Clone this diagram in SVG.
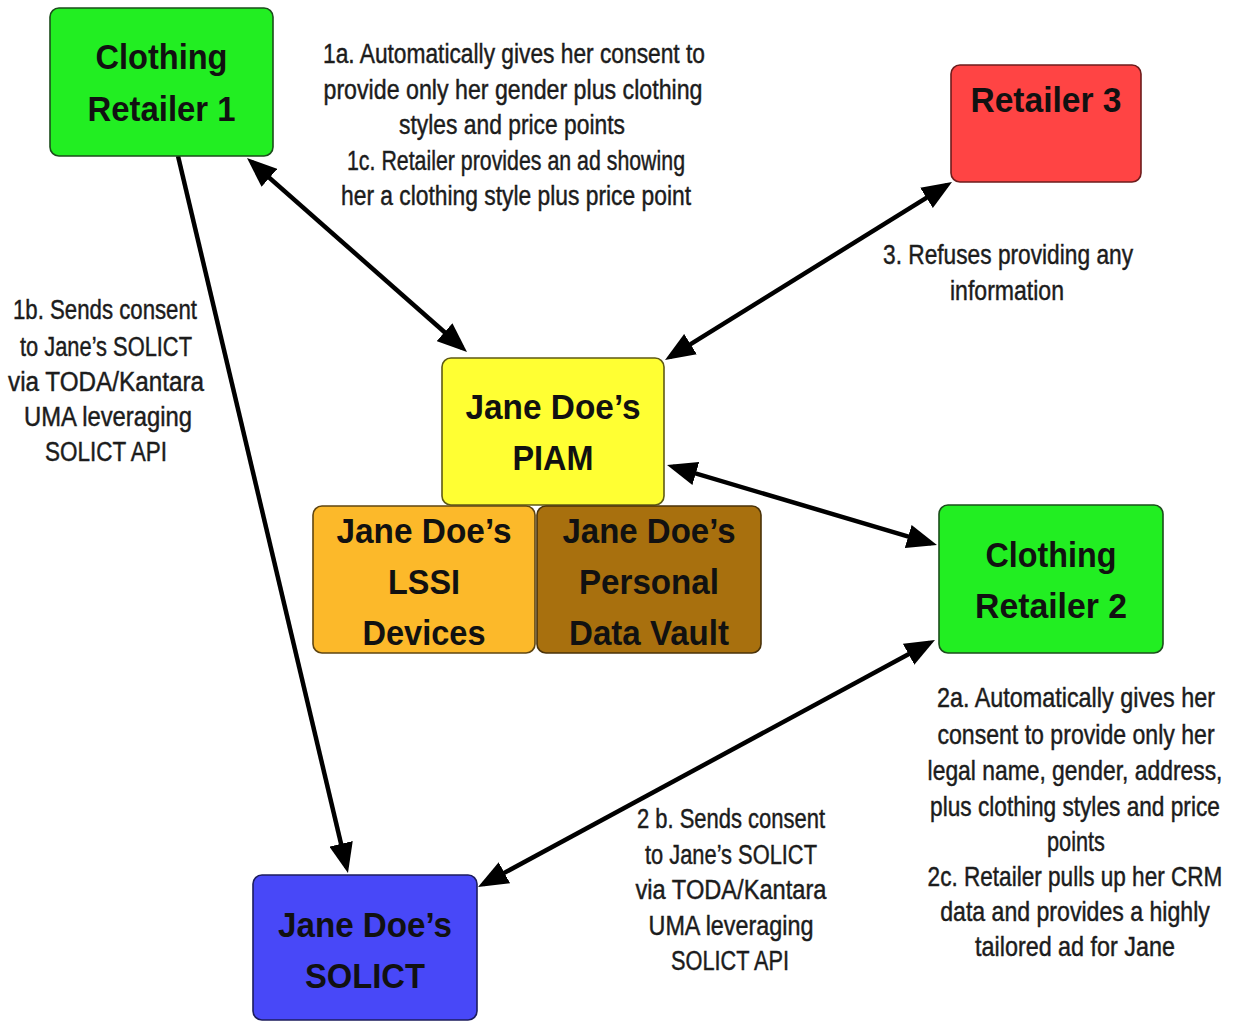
<svg xmlns="http://www.w3.org/2000/svg" width="1233" height="1023" viewBox="0 0 1233 1023">
  <style>
    .box { stroke-width: 1.6; }
    .nt { font-family: "Liberation Sans", Arial, sans-serif; font-weight: bold; font-size: 35px; fill: #111; text-anchor: middle; }
    .lb { font-family: "Liberation Sans", Arial, sans-serif; font-size: 27px; fill: #1c1c1c; stroke: #1c1c1c; stroke-width: 0.45; text-anchor: middle; }
    .conn { stroke: #000; stroke-width: 4.5; fill: none; }
  </style>
  <defs>
    <marker id="head" markerUnits="userSpaceOnUse" viewBox="0 0 30 24" markerWidth="30" markerHeight="24" refX="24" refY="12" orient="auto-start-reverse">
      <path d="M0,0 L30,12 L0,24 Z" fill="#000"/>
    </marker>
  </defs>

  <rect width="1233" height="1023" fill="#fff"/>

  <!-- connectors -->
  <g id="connectors">
    <line class="conn" x1="251.5" y1="162" x2="462.5" y2="348" marker-start="url(#head)" marker-end="url(#head)"/>
    <line class="conn" x1="178" y1="156" x2="346.6" y2="867.2" marker-end="url(#head)"/>
    <line class="conn" x1="670.1" y1="356.8" x2="946.9" y2="185.2" marker-start="url(#head)" marker-end="url(#head)"/>
    <line class="conn" x1="672.8" y1="466.7" x2="931.2" y2="543.3" marker-start="url(#head)" marker-end="url(#head)"/>
    <line class="conn" x1="483.3" y1="884.2" x2="929.7" y2="642.8" marker-start="url(#head)" marker-end="url(#head)"/>
  </g>

  <!-- nodes -->
  <g id="retailer1">
    <rect class="box" x="50" y="8" width="223" height="148" rx="9" fill="#22ee22" stroke="#1b4d1b"/>
    <text class="nt" x="161.5" y="69" textLength="132" lengthAdjust="spacingAndGlyphs">Clothing</text>
    <text class="nt" x="161.5" y="121" textLength="148" lengthAdjust="spacingAndGlyphs">Retailer 1</text>
  </g>

  <g id="retailer3">
    <rect class="box" x="951" y="65" width="190" height="117" rx="9" fill="#ff4444" stroke="#6e1c1c"/>
    <text class="nt" x="1046" y="112" textLength="151" lengthAdjust="spacingAndGlyphs">Retailer 3</text>
  </g>

  <g id="piam">
    <rect class="box" x="442" y="358" width="222" height="147" rx="9" fill="#ffff33" stroke="#5f5a14"/>
    <text class="nt" x="553" y="419" textLength="175" lengthAdjust="spacingAndGlyphs">Jane Doe’s</text>
    <text class="nt" x="553" y="470" textLength="81" lengthAdjust="spacingAndGlyphs">PIAM</text>
  </g>

  <g id="lssi">
    <rect class="box" x="313" y="506" width="222" height="147" rx="9" fill="#fcb92a" stroke="#5f4510"/>
    <text class="nt" x="424" y="543" textLength="175" lengthAdjust="spacingAndGlyphs">Jane Doe’s</text>
    <text class="nt" x="424" y="594" textLength="72" lengthAdjust="spacingAndGlyphs">LSSI</text>
    <text class="nt" x="424" y="645" textLength="123" lengthAdjust="spacingAndGlyphs">Devices</text>
  </g>

  <g id="vault">
    <rect class="box" x="537" y="506" width="224" height="147" rx="9" fill="#a8700e" stroke="#4a3208"/>
    <text class="nt" x="649" y="543" textLength="173" lengthAdjust="spacingAndGlyphs">Jane Doe’s</text>
    <text class="nt" x="649" y="594" textLength="140" lengthAdjust="spacingAndGlyphs">Personal</text>
    <text class="nt" x="649" y="645" textLength="160" lengthAdjust="spacingAndGlyphs">Data Vault</text>
  </g>

  <g id="solict">
    <rect class="box" x="253" y="875" width="224" height="145" rx="9" fill="#4848f8" stroke="#1c1c5e"/>
    <text class="nt" x="365" y="937" textLength="174" lengthAdjust="spacingAndGlyphs" fill="#0c0c2a">Jane Doe’s</text>
    <text class="nt" x="365" y="988" textLength="120" lengthAdjust="spacingAndGlyphs" fill="#0c0c2a">SOLICT</text>
  </g>

  <g id="retailer2">
    <rect class="box" x="939" y="505" width="224" height="148" rx="9" fill="#22ee22" stroke="#1b4d1b"/>
    <text class="nt" x="1051" y="567" textLength="131" lengthAdjust="spacingAndGlyphs">Clothing</text>
    <text class="nt" x="1051" y="618" textLength="152" lengthAdjust="spacingAndGlyphs">Retailer 2</text>
  </g>

  <!-- connector labels -->
  <g id="label-1a-1c">
    <text class="lb" x="514" y="63" textLength="382" lengthAdjust="spacingAndGlyphs">1a. Automatically gives her consent to</text>
    <text class="lb" x="513" y="99" textLength="379" lengthAdjust="spacingAndGlyphs">provide only her gender plus clothing</text>
    <text class="lb" x="512" y="134" textLength="226" lengthAdjust="spacingAndGlyphs">styles and price points</text>
    <text class="lb" x="516" y="170" textLength="338" lengthAdjust="spacingAndGlyphs">1c. Retailer provides an ad showing</text>
    <text class="lb" x="516" y="205" textLength="350" lengthAdjust="spacingAndGlyphs">her a clothing style plus price point</text>
  </g>

  <g id="label-1b">
    <text class="lb" x="105" y="319" textLength="184" lengthAdjust="spacingAndGlyphs">1b. Sends consent</text>
    <text class="lb" x="106" y="356" textLength="172" lengthAdjust="spacingAndGlyphs">to Jane’s SOLICT</text>
    <text class="lb" x="106" y="391" textLength="196" lengthAdjust="spacingAndGlyphs">via TODA/Kantara</text>
    <text class="lb" x="108" y="426" textLength="168" lengthAdjust="spacingAndGlyphs">UMA leveraging</text>
    <text class="lb" x="106" y="461" textLength="122" lengthAdjust="spacingAndGlyphs">SOLICT API</text>
  </g>

  <g id="label-3">
    <text class="lb" x="1008" y="264" textLength="250" lengthAdjust="spacingAndGlyphs">3. Refuses providing any</text>
    <text class="lb" x="1007" y="300" textLength="114" lengthAdjust="spacingAndGlyphs">information</text>
  </g>

  <!-- narrowed block so the long lines stay inside the right edge -->
  <g id="label-2a-2c" transform="translate(1075 0) scale(0.84 1)">
    <text class="lb" x="1.2" y="707" textLength="331" lengthAdjust="spacingAndGlyphs">2a. Automatically gives her</text>
    <text class="lb" x="1.2" y="744" textLength="330" lengthAdjust="spacingAndGlyphs">consent to provide only her</text>
    <text class="lb" x="0" y="780" textLength="351" lengthAdjust="spacingAndGlyphs">legal name, gender, address,</text>
    <text class="lb" x="0" y="816" textLength="345" lengthAdjust="spacingAndGlyphs">plus clothing styles and price</text>
    <text class="lb" x="1.2" y="851" textLength="69" lengthAdjust="spacingAndGlyphs">points</text>
    <text class="lb" x="0" y="886" textLength="351" lengthAdjust="spacingAndGlyphs">2c. Retailer pulls up her CRM</text>
    <text class="lb" x="0" y="921" textLength="321" lengthAdjust="spacingAndGlyphs">data and provides a highly</text>
    <text class="lb" x="0" y="956" textLength="238" lengthAdjust="spacingAndGlyphs">tailored ad for Jane</text>
  </g>

  <g id="label-2b">
    <text class="lb" x="731" y="828" textLength="188" lengthAdjust="spacingAndGlyphs">2 b. Sends consent</text>
    <text class="lb" x="731" y="864" textLength="172" lengthAdjust="spacingAndGlyphs">to Jane’s SOLICT</text>
    <text class="lb" x="731" y="899" textLength="191" lengthAdjust="spacingAndGlyphs">via TODA/Kantara</text>
    <text class="lb" x="731" y="935" textLength="165" lengthAdjust="spacingAndGlyphs">UMA leveraging</text>
    <text class="lb" x="730" y="970" textLength="118" lengthAdjust="spacingAndGlyphs">SOLICT API</text>
  </g>
</svg>
